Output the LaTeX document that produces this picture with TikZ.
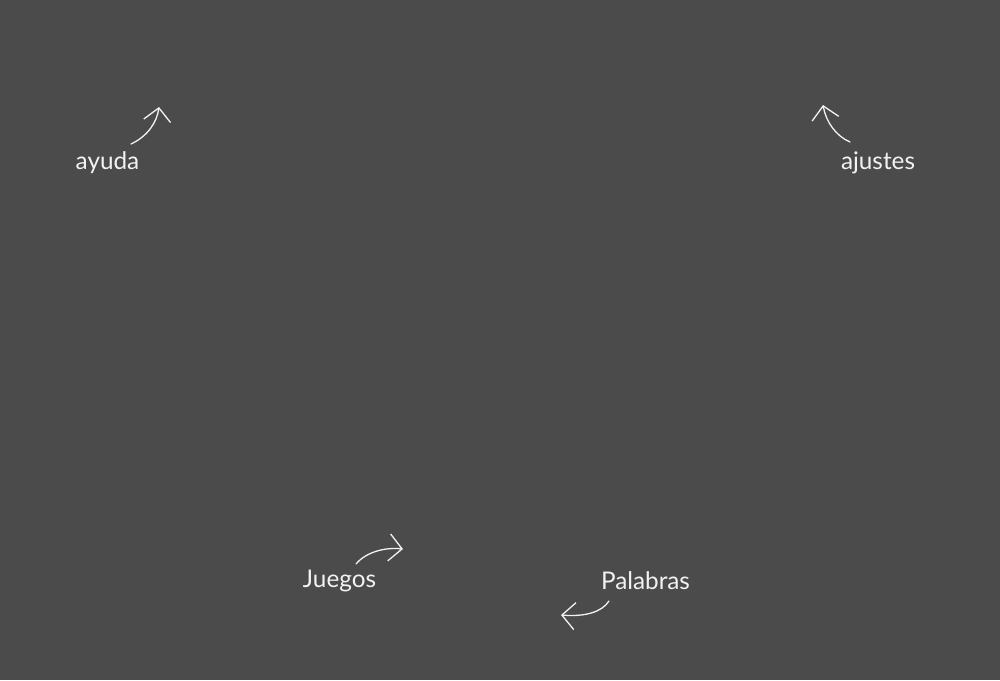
\documentclass[tikz,border=0pt]{standalone}
\usepackage{fontspec}
\setmainfont{Lato}
\usetikzlibrary{arrows.meta}
\definecolor{bg}{HTML}{4B4B4B}
\definecolor{ink}{HTML}{F2F2F2}
\begin{document}
\begin{tikzpicture}[x=1pt,y=-1pt,
  lbl/.style={text=ink,font=\fontsize{24.3}{28}\selectfont,anchor=base,inner sep=0pt},
  hand/.style={draw=ink,line width=1.3pt,line cap=round,-{Straight Barb[length=13pt,width=27pt]}}]
\fill[bg] (0,0) rectangle (1000,680);
\useasboundingbox (0,0) rectangle (1000,680);
\node[lbl] (ayuda) at (107.5,169.5) {ayuda};
\node[lbl] (ajustes) at (878,169.5) {ajustes};
\node[lbl] (juegos) at (339.5,587.5) {Juegos};
\node[lbl] (palabras) at (645.5,589.5) {Palabras};
\coordinate (a1) at (131,144); \coordinate (a2) at (159,107);
\coordinate (b1) at (850,142); \coordinate (b2) at (823,105);
\coordinate (c1) at (356,564); \coordinate (c2) at (403,549);
\coordinate (d1) at (609,601); \coordinate (d2) at (561,615);
\draw[hand] (a1) .. controls (148,136) and (157,122) .. (a2);
\draw[hand] (b1) .. controls (836,136) and (826,122) .. (b2);
\draw[hand] (c1) .. controls (366,552) and (385,547) .. (c2);
\draw[hand] (d1) .. controls (602,612) and (585,617) .. (d2);
\end{tikzpicture}
\end{document}
